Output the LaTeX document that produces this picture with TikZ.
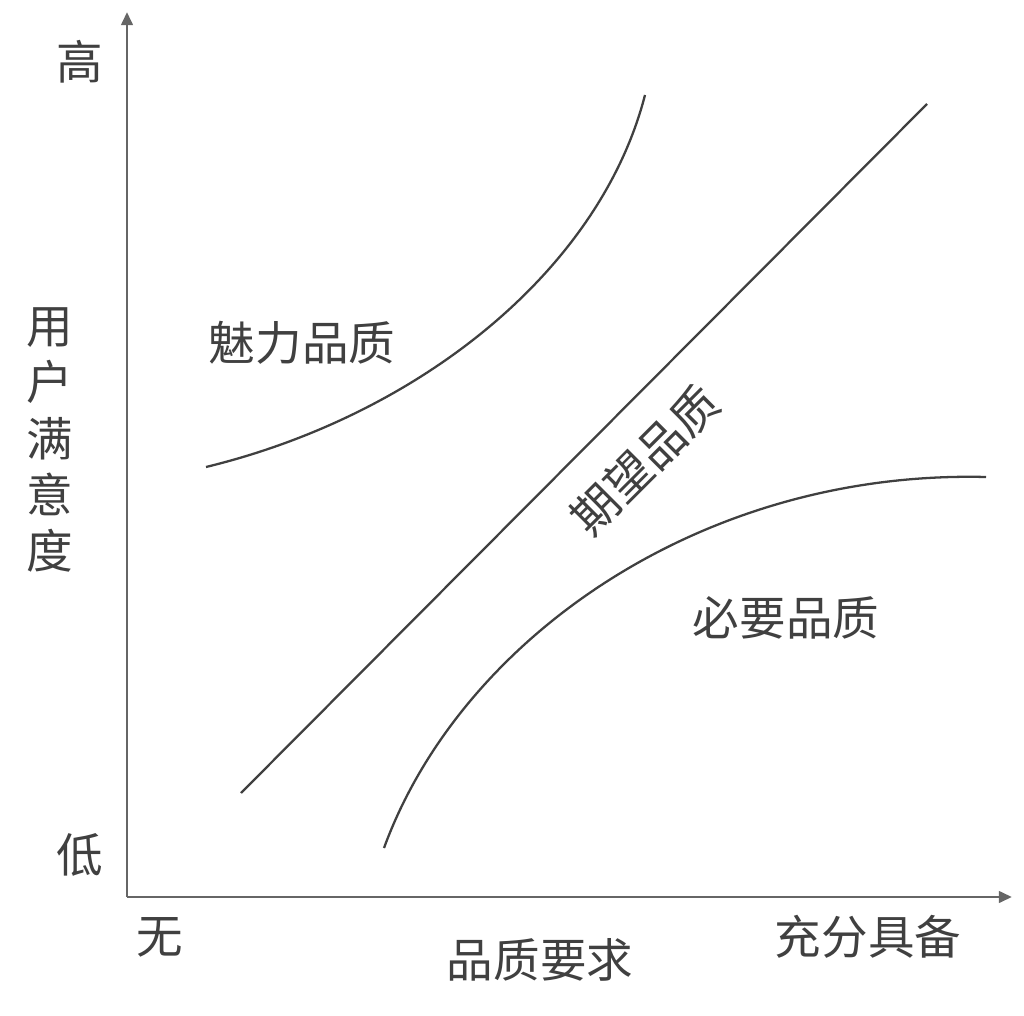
\documentclass[tikz,border=0pt]{standalone}
\usepackage{fontspec}
\newfontfamily\cjk{Noto Sans CJK SC}
\usetikzlibrary{arrows.meta}
\definecolor{axisgray}{HTML}{666666}
\definecolor{curvegray}{HTML}{404040}
\definecolor{textgray}{HTML}{404040}
\tikzset{
  axisline/.style={draw=axisgray, line width=1.7pt, -{Triangle[length=7.5pt,width=6.5pt]}},
  curveline/.style={draw=curvegray, line width=1.3pt},
  lbl/.style={text=textgray, font=\cjk\fontsize{26.5}{32}\selectfont, inner sep=0pt},
}
\begin{document}
\begin{tikzpicture}[x=0.02cm, y=-0.02cm]
\useasboundingbox (0,0) rectangle (1024,1016);
\coordinate (O) at (127,897);
\coordinate (ytop) at (127,12);
\coordinate (xend) at (1012,897);
\draw[axisline] (O) -- (ytop);
\draw[axisline] (O) -- (xend);

\coordinate (a0) at (206,467);
\coordinate (a1) at (645,95);
\draw[curveline] (a0) .. controls (420,415) and (600,270) .. (a1);

\coordinate (b0) at (241,793);
\coordinate (b1) at (927,104);
\draw[curveline] (b0) -- (b1);

\coordinate (c0) at (384,848);
\coordinate (c1) at (986,477);
\draw[curveline] (c0) .. controls (460,640) and (700,470) .. (c1);

\node[lbl] (high) at (80,62) {高};
\node[lbl] (low) at (80,855) {低};
\node[lbl, align=center] (ylab) at (50,440) {用\\户\\满\\意\\度};
\node[lbl] (none) at (160,937) {无};
\node[lbl] (full) at (868,937) {充分具备};
\node[lbl] (xlab) at (540,960) {品质要求};
\node[lbl] (attr) at (302,343) {魅力品质};
\node[lbl, rotate=45] (expe) at (645,460) {期望品质};
\node[lbl] (must) at (786,618) {必要品质};
\end{tikzpicture}
\end{document}
